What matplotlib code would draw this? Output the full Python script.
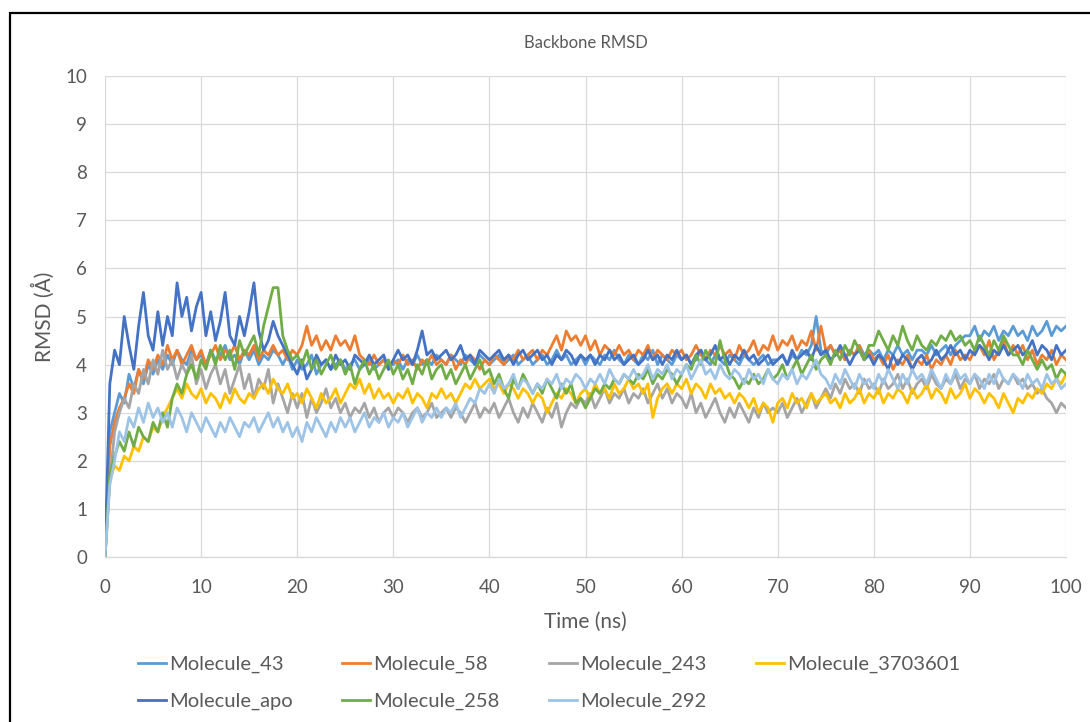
import numpy as np
import matplotlib
matplotlib.use("Agg")
import matplotlib.pyplot as plt
from matplotlib.patches import Rectangle

plt.rcParams['font.family'] = ['Lato', 'DejaVu Sans']

time_ns = np.arange(0, 100.5, 0.5)

mol_43 = [
    0.0, 2.6, 3.0, 3.4, 3.2, 3.8, 3.5, 3.9, 3.6, 4.0,
    3.8, 4.1, 3.9, 4.2, 4.0, 4.3, 4.1, 4.0, 4.3, 4.1,
    4.2, 4.0, 4.3, 4.1, 4.2, 4.4, 4.1, 4.2, 4.0, 4.3,
    4.1, 4.3, 4.0, 4.2, 4.1, 4.3, 4.2, 4.0, 4.2, 3.9,
    4.1, 3.9, 4.0, 4.2, 3.8, 4.0, 4.1, 3.9, 4.0, 4.1,
    3.9, 4.0, 4.1, 3.9, 4.0, 4.1, 3.9, 4.0, 4.1, 4.0,
    4.0, 4.1, 3.9, 4.1, 4.0, 4.2, 4.0, 4.1, 4.0, 4.2,
    4.1, 4.0, 4.2, 4.1, 4.0, 4.2, 4.1, 4.0, 4.2, 4.1,
    4.0, 4.1, 4.2, 4.0, 4.1, 4.2, 4.0, 4.1, 4.2, 4.0,
    4.1, 4.2, 4.0, 4.1, 4.3, 4.1, 4.2, 4.0, 4.1, 4.2,
    4.0, 4.2, 4.1, 4.0, 4.2, 4.1, 4.3, 4.1, 4.0, 4.2,
    4.1, 4.0, 4.2, 4.1, 4.3, 4.0, 4.2, 4.1, 4.0, 4.2,
    4.1, 4.2, 4.0, 4.1, 4.3, 4.1, 4.0, 4.2, 4.1, 4.0,
    4.2, 4.1, 4.0, 4.2, 4.1, 4.0, 4.1, 4.2, 4.0, 4.1,
    4.1, 4.2, 4.0, 4.2, 4.1, 4.3, 4.2, 4.4, 5.0, 4.3,
    4.2, 4.4, 4.2, 4.3, 4.1, 4.3, 4.2, 4.4, 4.2, 4.3,
    4.2, 4.3, 4.1, 4.3, 4.2, 4.4, 4.2, 4.3, 4.1, 4.3,
    4.3, 4.2, 4.4, 4.2, 4.3, 4.4, 4.2, 4.4, 4.5, 4.6,
    4.6, 4.8, 4.5, 4.7, 4.6, 4.8, 4.5, 4.7, 4.6, 4.8,
    4.6, 4.7, 4.5, 4.8, 4.6, 4.7, 4.9, 4.6, 4.8, 4.7,
    4.8]

mol_58 = [
    0.0, 2.3, 2.8, 3.1, 3.3, 3.6, 3.4, 3.9, 3.7, 4.1,
    3.9, 4.2, 4.0, 4.4, 4.1, 4.3, 4.0, 4.2, 4.4, 4.1,
    4.3, 4.0, 4.2, 4.4, 4.1, 4.3, 4.2, 4.4, 4.1, 4.3,
    4.2, 4.4, 4.1, 4.3, 4.2, 4.4, 4.2, 4.3, 4.1, 4.3,
    4.2, 4.4, 4.8, 4.4, 4.6, 4.3, 4.5, 4.3, 4.6, 4.4,
    4.5, 4.3, 4.6, 4.2, 4.1, 4.0, 4.2, 4.0, 4.1, 3.9,
    4.1, 4.0, 4.2, 4.0, 4.1, 3.9, 4.1, 4.0, 4.2, 4.0,
    4.1, 4.0, 4.2, 3.9, 4.1, 4.0, 4.2, 4.1, 3.9, 4.1,
    4.0, 4.2, 4.1, 4.0, 4.2, 4.1, 4.3, 4.1, 4.2, 4.3,
    4.1, 4.3, 4.2, 4.4, 4.6, 4.3, 4.7, 4.5, 4.6, 4.4,
    4.6, 4.3, 4.5, 4.2, 4.4, 4.3, 4.2, 4.4, 4.2, 4.3,
    4.1, 4.3, 4.2, 4.4, 4.1, 4.3, 4.2, 4.1, 4.3, 4.2,
    4.3, 4.1, 4.2, 4.4, 4.2, 4.1, 4.3, 4.2, 4.4, 4.2,
    4.3, 4.1, 4.4, 4.2, 4.3, 4.5, 4.2, 4.4, 4.3, 4.6,
    4.3, 4.5, 4.4, 4.6, 4.3, 4.5, 4.4, 4.7, 4.3, 4.8,
    4.3, 4.4, 4.2, 4.3, 4.1, 4.3, 4.2, 4.4, 4.1, 4.3,
    4.1, 4.2, 4.0, 4.2, 3.9, 4.1, 4.0, 4.2, 3.9, 4.1,
    4.0, 4.2, 3.9, 4.1, 4.0, 4.2, 4.0, 4.3, 4.1, 4.2,
    4.1, 4.3, 4.4, 4.2, 4.5, 4.1, 4.3, 4.5, 4.2, 4.4,
    4.2, 4.4, 4.1, 4.3, 4.0, 4.2, 4.1, 4.3, 4.0, 4.2,
    4.1]

mol_243 = [
    0.0, 1.6, 2.6, 3.0, 3.3, 3.1, 3.6, 3.4, 3.9, 3.6,
    4.1, 3.8, 4.3, 3.9, 4.1, 3.7, 4.0, 3.8, 4.2, 3.6,
    3.9, 3.5, 3.8, 4.0, 3.6, 3.9, 3.4, 3.7, 4.0, 3.5,
    3.8, 3.3, 3.7, 3.5, 3.9, 3.2, 3.6, 3.3, 3.0, 3.4,
    3.1, 3.4, 2.9, 3.3, 3.0, 3.2, 3.5, 3.1, 3.3, 3.0,
    3.2, 2.9, 3.1, 3.0, 3.2, 2.9, 3.1, 2.8, 3.0, 3.1,
    2.9, 3.1, 3.0, 2.8, 3.0, 3.1, 2.9, 3.0, 3.2, 2.9,
    3.0, 3.1, 2.9, 3.1, 3.0, 2.8, 3.0, 3.2, 2.9, 3.1,
    3.0, 3.2, 2.9, 3.1, 3.3, 3.0, 2.8, 3.1, 2.9, 3.2,
    3.0, 2.8, 3.1, 2.9, 3.2, 2.7, 3.0, 3.2, 3.1, 3.3,
    3.2, 3.4, 3.1, 3.3, 3.5, 3.2, 3.4, 3.3, 3.5, 3.2,
    3.4, 3.3, 3.5, 3.2, 3.4, 3.6, 3.3, 3.5, 3.2, 3.4,
    3.3, 3.1, 3.4, 3.0, 3.2, 2.9, 3.1, 3.3, 3.0, 2.8,
    3.1, 2.9, 3.2, 3.0, 2.8, 3.1, 2.9, 3.2, 3.0, 3.1,
    3.0, 3.2, 2.9, 3.1, 3.3, 3.0, 3.2, 3.4, 3.1, 3.3,
    3.5, 3.3, 3.6, 3.4, 3.7, 3.5, 3.6, 3.4, 3.7, 3.5,
    3.6, 3.4, 3.7, 3.5, 3.6, 3.8, 3.5, 3.7, 3.4, 3.6,
    3.7, 3.5, 3.8, 3.6, 3.5, 3.7, 3.6, 3.8, 3.5, 3.7,
    3.6, 3.8, 3.5, 3.7, 3.6, 3.8, 3.5, 3.7, 3.6, 3.8,
    3.6, 3.7, 3.5, 3.6, 3.4, 3.5, 3.3, 3.2, 3.0, 3.2,
    3.1]

mol_3703601 = [
    0.0, 1.6, 1.9, 1.8, 2.1, 2.0, 2.3, 2.2, 2.5, 2.4,
    2.7, 2.6, 2.9, 3.1, 3.3, 3.5, 3.3, 3.6, 3.4, 3.3,
    3.5, 3.2, 3.4, 3.3, 3.1, 3.4, 3.2, 3.5, 3.3, 3.2,
    3.4, 3.3, 3.5, 3.6, 3.4, 3.7, 3.5, 3.4, 3.6, 3.3,
    3.4, 3.2, 3.5, 3.3, 3.1, 3.4, 3.2, 3.3, 3.5, 3.2,
    3.4, 3.6, 3.5, 3.7, 3.4, 3.6, 3.3, 3.5, 3.3, 3.4,
    3.2, 3.4, 3.3, 3.5, 3.2, 3.4, 3.3, 3.1, 3.4, 3.3,
    3.5, 3.3, 3.4, 3.2, 3.4, 3.6, 3.5, 3.7, 3.5, 3.6,
    3.7, 3.5, 3.6, 3.4, 3.6, 3.5, 3.3, 3.5, 3.4, 3.2,
    3.4, 3.3, 3.0, 3.2, 3.4, 3.3, 3.5, 3.4, 3.2, 3.4,
    3.5, 3.3, 3.6, 3.4, 3.5, 3.3, 3.6, 3.4, 3.5, 3.7,
    3.5, 3.6, 3.4, 3.6, 2.9, 3.3, 3.5, 3.6, 3.4, 3.6,
    3.5, 3.7, 3.4, 3.6, 3.5, 3.3, 3.6, 3.4, 3.5, 3.3,
    3.4, 3.2, 3.4, 3.3, 3.1, 3.3, 3.0, 3.2, 3.1, 2.8,
    3.2, 3.3, 3.1, 3.4, 3.2, 3.3, 3.1, 3.4, 3.2, 3.3,
    3.4, 3.2, 3.3, 3.1, 3.4, 3.2, 3.3, 3.5, 3.2, 3.4,
    3.3, 3.5, 3.2, 3.4, 3.3, 3.5, 3.4, 3.2, 3.5, 3.3,
    3.4, 3.6, 3.3, 3.5, 3.4, 3.2, 3.5, 3.3, 3.4, 3.6,
    3.3, 3.5, 3.4, 3.2, 3.4, 3.3, 3.1, 3.4, 3.2, 3.0,
    3.3, 3.2, 3.4, 3.3, 3.5, 3.4, 3.6, 3.5, 3.7, 3.6,
    3.8]

mol_apo = [
    0.0, 3.6, 4.3, 4.0, 5.0, 4.4, 3.9, 4.8, 5.5, 4.6,
    4.3, 5.1, 4.4, 5.0, 4.6, 5.7, 5.0, 5.4, 4.7, 5.2,
    5.5, 4.6, 5.1, 4.5, 4.9, 5.5, 4.6, 4.4, 5.0, 4.6,
    5.1, 5.7, 4.7, 4.3, 4.5, 4.9, 4.6, 4.4, 4.2, 4.0,
    3.8, 4.1, 3.7, 3.9, 4.2, 4.0, 4.1, 3.9, 4.2, 4.0,
    4.1, 3.9, 4.2, 4.1, 4.0, 4.2, 4.0, 4.1, 4.2, 3.9,
    4.1, 4.3, 4.1, 4.2, 4.0, 4.3, 4.7, 4.2, 4.3, 4.1,
    4.2, 4.3, 4.1, 4.2, 4.4, 4.1, 4.2, 4.0, 4.3, 4.2,
    4.1, 4.2, 4.3, 4.1, 4.2, 4.0, 4.2, 4.3, 4.1, 4.2,
    4.3, 4.1, 4.2, 4.0, 4.2, 4.1, 4.3, 4.2, 4.0, 4.2,
    4.1, 4.2, 4.0, 4.2, 4.1, 4.3, 4.1, 4.2, 4.0, 4.1,
    4.2, 4.0, 4.1, 4.3, 4.1, 4.2, 4.0, 4.2, 4.1, 4.3,
    4.1, 4.2, 4.0, 4.2, 4.3, 4.1, 4.2, 4.4, 4.1, 4.2,
    4.0, 4.2, 4.1, 4.3, 4.1, 4.2, 4.0, 4.1, 4.2, 4.0,
    4.1, 4.2, 4.0, 4.3, 4.1, 4.2, 4.3, 4.1, 4.4, 4.2,
    4.3, 4.1, 4.2, 4.4, 4.2, 4.0, 4.2, 4.3, 4.1, 4.2,
    4.0, 4.2, 4.1, 3.9, 4.2, 4.0, 4.2, 4.1, 3.9, 4.1,
    4.2, 4.0, 4.1, 4.3, 4.1, 4.2, 4.4, 4.2, 4.3, 4.1,
    4.3, 4.2, 4.4, 4.3, 4.1, 4.3, 4.2, 4.4, 4.2, 4.3,
    4.4, 4.2, 4.3, 4.5, 4.2, 4.4, 4.3, 4.1, 4.4, 4.2,
    4.3]

mol_258 = [
    0.0, 1.7, 2.1, 2.4, 2.2, 2.6, 2.3, 2.7, 2.5, 2.4,
    2.8, 2.6, 3.0, 2.7, 3.3, 3.6, 3.4, 3.8, 4.0, 3.7,
    4.1, 3.9, 4.3, 4.0, 4.4, 4.1, 4.3, 3.9, 4.5, 4.2,
    4.4, 4.6, 4.2, 4.8, 5.2, 5.6, 5.6, 4.6, 4.3, 4.1,
    4.2, 4.0, 4.3, 3.9, 4.1, 3.8, 4.0, 4.2, 3.9, 4.1,
    3.8, 4.0, 3.6, 3.9, 4.1, 3.8, 4.0, 3.7, 3.9, 4.1,
    3.8, 4.0, 3.7, 3.9, 3.6, 4.0, 3.8, 4.1, 3.7, 3.9,
    4.0, 3.7, 3.9, 3.6, 3.8, 4.0, 3.7, 3.9, 4.1, 3.8,
    3.9, 3.6, 3.8, 3.5, 3.3, 3.7, 3.5, 3.8, 3.6, 3.4,
    3.6, 3.4, 3.7, 3.5, 3.3, 3.6, 3.4, 3.6, 3.2, 3.3,
    3.1, 3.3, 3.5, 3.4, 3.6, 3.5, 3.7, 3.6, 3.8, 3.7,
    3.6, 3.8, 3.7, 3.9, 3.6, 3.8, 3.7, 3.9, 3.8, 3.6,
    3.8, 4.0, 3.9, 4.2, 4.0, 4.3, 4.1, 4.0, 4.5, 4.1,
    3.8, 3.7, 3.5, 3.7, 3.6, 3.8, 3.6, 3.7, 3.9, 3.7,
    3.8, 4.0, 3.7, 3.9, 4.1, 3.8, 4.0, 4.2, 3.9, 4.1,
    4.2, 4.0, 4.3, 4.1, 4.4, 4.2, 4.5, 4.3, 4.1, 4.4,
    4.4, 4.7, 4.5, 4.3, 4.6, 4.4, 4.8, 4.5, 4.3, 4.6,
    4.4, 4.3, 4.5, 4.4, 4.6, 4.5, 4.7, 4.5, 4.6, 4.4,
    4.5, 4.3, 4.6, 4.4, 4.2, 4.5, 4.3, 4.6, 4.4, 4.2,
    4.2, 4.0, 4.3, 4.1, 3.9, 4.1, 3.9, 4.0, 3.7, 3.9,
    3.8]

mol_292 = [
    0.0, 1.5, 2.0, 2.6, 2.4, 2.9, 2.7, 3.1, 2.8, 3.2,
    2.9, 3.1, 2.8, 3.0, 2.7, 3.1, 2.9, 2.6, 3.0, 2.8,
    2.6, 2.9, 2.7, 2.5, 2.8, 2.6, 2.9, 2.7, 2.5, 2.8,
    2.7, 2.9, 2.6, 2.8, 3.0, 2.7, 2.9, 2.6, 2.8, 2.5,
    2.7, 2.4, 2.8, 2.6, 2.9, 2.7, 2.5, 2.8, 2.6, 2.9,
    2.7, 2.9, 2.6, 2.8, 3.0, 2.7, 2.9, 2.8, 3.0, 2.7,
    2.9, 2.8, 3.0, 2.7, 2.9, 3.1, 2.8, 3.0, 2.9, 3.1,
    2.9, 3.1, 3.0, 3.2, 2.9, 3.1, 3.3, 3.2, 3.5, 3.4,
    3.6, 3.4, 3.7, 3.5, 3.6, 3.8, 3.5, 3.7, 3.6, 3.4,
    3.6, 3.5, 3.7, 3.6, 3.8, 3.5, 3.7, 3.6, 3.8, 3.7,
    3.5, 3.7, 3.6, 3.8, 3.6, 3.9, 3.7, 3.6, 3.8, 3.7,
    3.9, 3.7, 3.8, 4.0, 3.7, 3.9, 3.8, 4.0, 3.7, 3.9,
    3.8, 4.0, 3.7, 3.9, 4.1, 3.8, 3.9, 3.7, 4.0, 3.8,
    3.7, 3.9, 3.8, 3.6, 3.9, 3.7, 3.8, 3.6, 3.9, 3.7,
    3.6, 3.8, 3.7, 3.9, 3.6, 3.8, 3.7, 3.9, 4.1, 3.8,
    3.7, 3.5, 3.8, 3.6, 3.9, 3.7, 3.5, 3.8, 3.6, 3.7,
    3.5, 3.8, 3.6, 3.9, 3.7, 3.5, 3.8, 3.6, 3.9, 3.7,
    3.8, 3.6, 3.9, 3.7, 3.5, 3.8, 3.6, 3.9, 3.7, 3.8,
    3.6, 3.8, 3.7, 3.5, 3.8, 3.6, 3.9, 3.7, 3.6, 3.8,
    3.7, 3.5, 3.8, 3.6, 3.7, 3.5, 3.8, 3.6, 3.7, 3.5,
    3.6]

series_names = ["Molecule_43", "Molecule_58", "Molecule_243", "Molecule_3703601",
                "Molecule_apo", "Molecule_258", "Molecule_292"]
series_values = [mol_43, mol_58, mol_243, mol_3703601, mol_apo, mol_258, mol_292]
series_colors = ["#5B9BD5", "#ED7D31", "#A5A5A5", "#FFC000",
                 "#4472C4", "#70AD47", "#9DC3E6"]

x_ticks = list(range(0, 101, 10))
y_ticks = list(range(0, 11))

W, H = 1090, 722
fig = plt.figure(figsize=(W / 100, H / 100), dpi=100)
fig.patch.set_facecolor("white")

ax = fig.add_axes([105 / W, 1 - 557 / H, (1066 - 105) / W, (557 - 76) / H])
ax.set_facecolor("white")

handles = []
for name, vals, col in zip(series_names, series_values, series_colors):
    ln, = ax.plot(time_ns, vals, color=col, lw=2.0, solid_joinstyle="round", label=name)
    handles.append(ln)

ax.set_xlim(0, 100)
ax.set_ylim(0, 10)
ax.set_xticks(x_ticks)
ax.set_yticks(y_ticks)
ax.grid(True, color="#D9D9D9", lw=0.9)
ax.set_axisbelow(True)
for s in ["top", "right", "left"]:
    ax.spines[s].set_visible(False)
ax.spines["bottom"].set_color("#D9D9D9")
ax.spines["bottom"].set_linewidth(0.9)
ax.tick_params(axis="both", length=0, colors="#595959", labelsize=13.5)
ax.tick_params(axis="x", pad=16)
ax.tick_params(axis="y", pad=13)

ax.set_xlabel("Time (ns)", color="#595959", fontsize=15, labelpad=11)
ax.set_ylabel("RMSD (Å)", color="#595959", fontsize=15, labelpad=7)
ax.set_title("Backbone RMSD", color="#595959", fontsize=12, pad=20)

order = [0, 4, 1, 5, 2, 6, 3]
leg = fig.legend([handles[i] for i in order], [series_names[i] for i in order],
                 ncol=4, loc="center", bbox_to_anchor=(549 / W, 1 - 683 / H),
                 frameon=False, fontsize=14.5, handlelength=1.4, handletextpad=0.15,
                 columnspacing=2.45, labelspacing=1.0, borderpad=0.0)
for t in leg.get_texts():
    t.set_color("#595959")

fig.add_artist(Rectangle((9.5 / W, -0.05), 1.2, 1 - 13 / H + 0.05,
                         transform=fig.transFigure, fill=False, ec="black",
                         lw=1.6, clip_on=False))

fig.savefig("out.png", dpi=100, facecolor="white")
